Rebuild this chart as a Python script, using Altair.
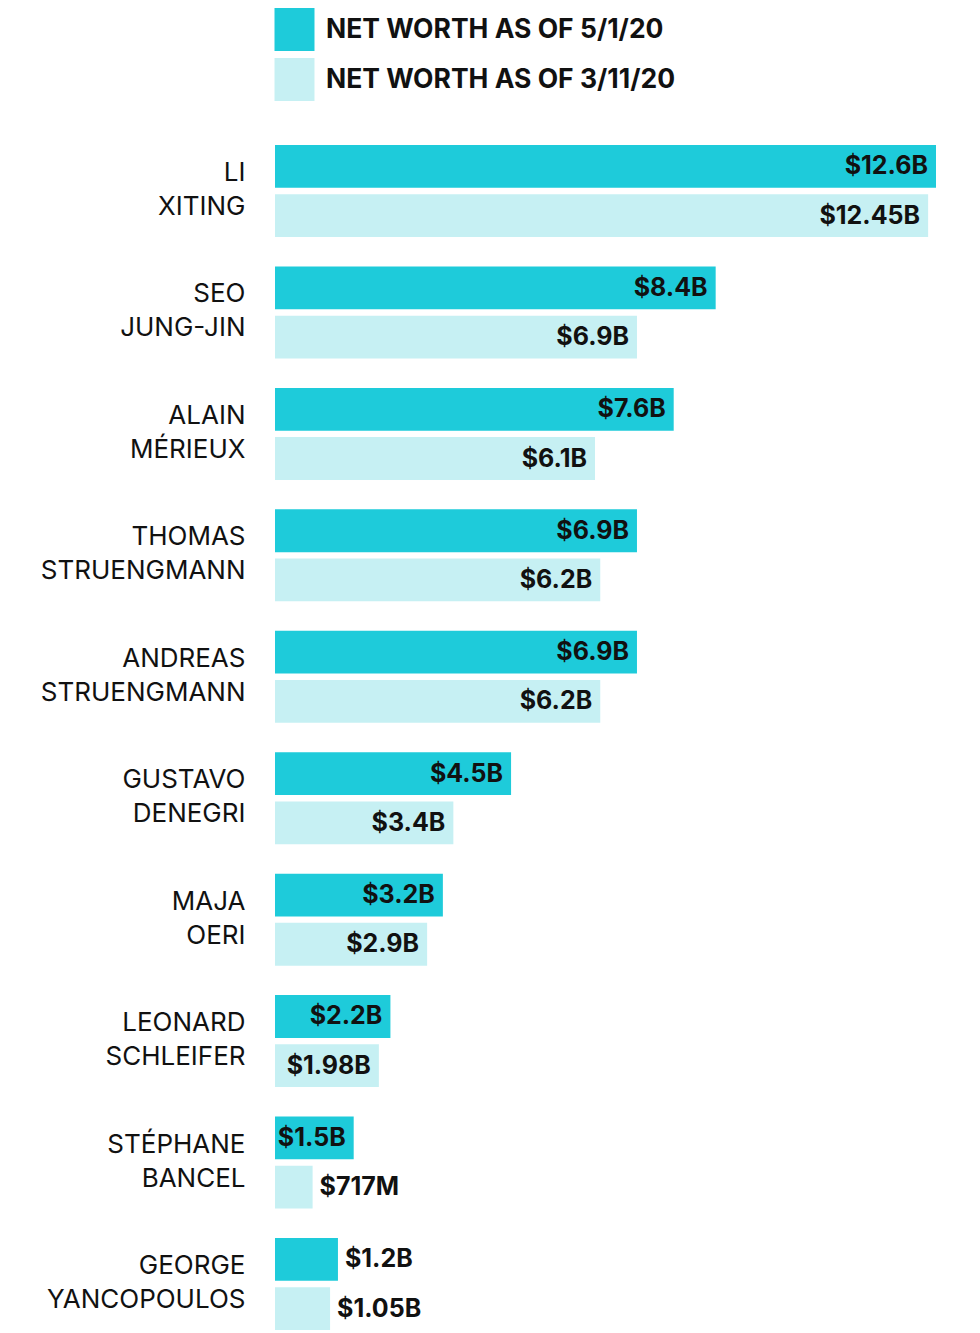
import altair as alt
import pandas as pd

names = ["LI XITING", "SEO JUNG-JIN", "ALAIN MÉRIEUX", "THOMAS STRUENGMANN",
         "ANDREAS STRUENGMANN", "GUSTAVO DENEGRI", "MAJA OERI",
         "LEONARD SCHLEIFER", "STÉPHANE BANCEL", "GEORGE YANCOPOULOS"]
may_values = [12.6, 8.4, 7.6, 6.9, 6.9, 4.5, 3.2, 2.2, 1.5, 1.2]
march_values = [12.45, 6.9, 6.1, 6.2, 6.2, 3.4, 2.9, 1.98, 0.717, 1.05]
may_labels = ["$12.6B", "$8.4B", "$7.6B", "$6.9B", "$6.9B", "$4.5B", "$3.2B",
              "$2.2B", "$1.5B", "$1.2B"]
march_labels = ["$12.45B", "$6.9B", "$6.1B", "$6.2B", "$6.2B", "$3.4B", "$2.9B",
                "$1.98B", "$717M", "$1.05B"]
series = ["NET WORTH AS OF 5/1/20", "NET WORTH AS OF 3/11/20"]
colors = ["#1ECBDA", "#C6F0F3"]

rows = []
for n, v, l in zip(names, may_values, may_labels):
    rows.append({"name": n, "series": series[0], "value": v, "label": l})
for n, v, l in zip(names, march_values, march_labels):
    rows.append({"name": n, "series": series[1], "value": v, "label": l})
df = pd.DataFrame(rows)

FONT = "Inter"
TXT = "#111111"

y_enc = alt.Y("name:N", sort=names, title=None,
              scale=alt.Scale(paddingInner=0.242, paddingOuter=0),
              axis=alt.Axis(domain=False, ticks=False, grid=False,
                            labelExpr="split(datum.label, ' ')",
                            labelFont=FONT, labelFontSize=26, labelFontWeight=400,
                            labelColor=TXT, labelLineHeight=34, labelPadding=30,
                            labelAlign="right", labelBaseline="middle",
                            labelOffset=-18, labelLimit=400))
yoff_enc = alt.YOffset("series:N", sort=series,
                       scale=alt.Scale(paddingInner=0.13, paddingOuter=0))
x_enc = alt.X("value:Q", scale=alt.Scale(domain=[0, 12.6], nice=False), axis=None)

base = alt.Chart(df)

bars = base.mark_bar().encode(
    y=y_enc, yOffset=yoff_enc, x=x_enc,
    color=alt.Color("series:N", sort=series,
                    scale=alt.Scale(domain=series, range=colors),
                    legend=alt.Legend(title=None, orient="none",
                                      legendX=-2, legendY=-137,
                                      symbolType="M-0.93,-1H0.93V1H-0.93Z",
                                      symbolSize=1849, symbolStrokeWidth=0,
                                      symbolOpacity=1,
                                      labelFont=FONT, labelFontSize=26.5,
                                      labelFontWeight="bold", labelColor=TXT,
                                      labelOffset=10, rowPadding=7,
                                      labelLimit=600, padding=0)),
)

inside = base.transform_filter("datum.value >= 1.4").mark_text(
    align="right", baseline="middle", dx=-8, font=FONT, fontSize=25,
    fontWeight="bold", color=TXT
).encode(y=y_enc, yOffset=yoff_enc, x=x_enc, text="label:N")

outside = base.transform_filter("datum.value < 1.4").mark_text(
    align="left", baseline="middle", dx=7, font=FONT, fontSize=25,
    fontWeight="bold", color=TXT
).encode(y=y_enc, yOffset=yoff_enc, x=x_enc, text="label:N")

chart = alt.layer(bars, inside, outside).properties(
    width=661, height=1185,
    autosize=alt.AutoSizeParams(type="none"),
    padding={"left": 267, "top": 137, "right": 10, "bottom": 5},
    background="white",
).configure_view(stroke=None, strokeWidth=0)

chart.save("out.html", embed_options={"renderer": "svg", "actions": False})
